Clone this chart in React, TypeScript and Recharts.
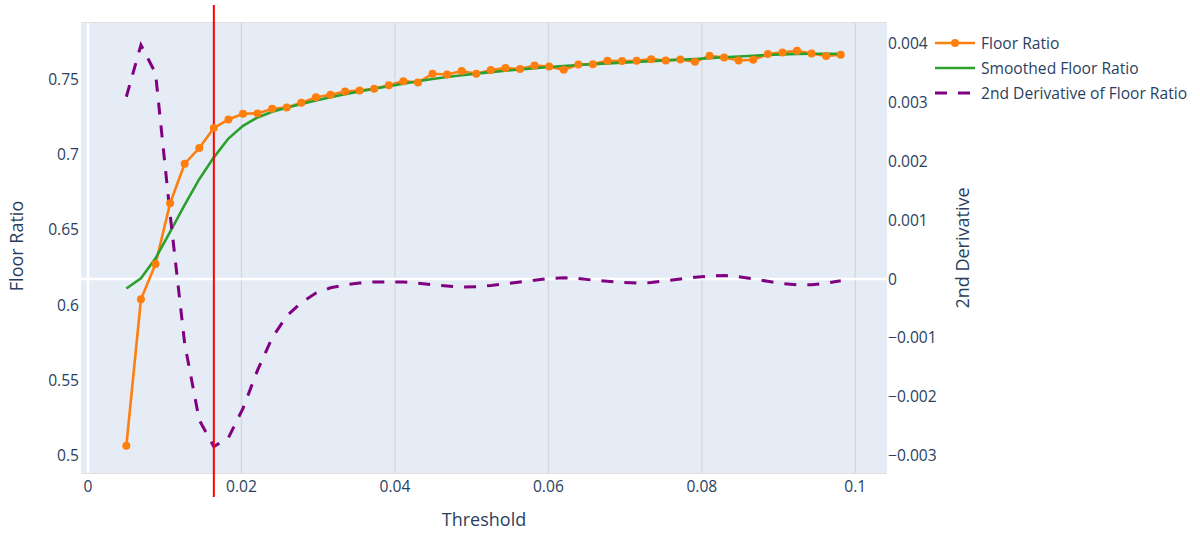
import {
  ComposedChart,
  Line,
  XAxis,
  YAxis,
  CartesianGrid,
  ReferenceLine,
  Label,
} from "recharts";

const thresholds = [
  0.005, 0.0069, 0.0088, 0.0107, 0.0126, 0.0145, 0.0164, 0.0183, 0.0202, 0.0221,
  0.024, 0.0259, 0.0278, 0.0297, 0.0316, 0.0335, 0.0354, 0.0373, 0.0392, 0.0411,
  0.043, 0.0449, 0.0468, 0.0487, 0.0506, 0.0525, 0.0544, 0.0563, 0.0582, 0.0601,
  0.062, 0.0639, 0.0658, 0.0677, 0.0696, 0.0715, 0.0734, 0.0753, 0.0772, 0.0791,
  0.081, 0.0829, 0.0848, 0.0867, 0.0886, 0.0905, 0.0924, 0.0943, 0.0962, 0.0981,
];

const floorRatio = [
  0.5066, 0.6038, 0.6272, 0.6675, 0.6938, 0.7042, 0.7175, 0.7232, 0.727, 0.7272,
  0.7303, 0.7311, 0.7342, 0.7379, 0.7395, 0.7417, 0.7424, 0.7435, 0.7459, 0.7486,
  0.7477, 0.7535, 0.753, 0.7553, 0.7535, 0.756, 0.7573, 0.7566, 0.759, 0.7583,
  0.7561, 0.7596, 0.7599, 0.7621, 0.7619, 0.7621, 0.7632, 0.7623, 0.763, 0.7614,
  0.7654, 0.7643, 0.7623, 0.7628, 0.7666, 0.7677, 0.7688, 0.767, 0.7653, 0.7662,
];

const smoothedRatio = [
  0.611, 0.6177, 0.631, 0.6485, 0.6665, 0.6835, 0.698, 0.7105, 0.719, 0.7245,
  0.7283, 0.731, 0.7335, 0.7358, 0.7379, 0.7399, 0.7418, 0.7436, 0.7453, 0.7469,
  0.7485, 0.75, 0.7513, 0.7525, 0.7536, 0.7546, 0.7555, 0.7563, 0.7572, 0.758,
  0.7587, 0.7593, 0.7599, 0.7604, 0.7609, 0.7614, 0.7619, 0.7624, 0.7629, 0.7633,
  0.7639, 0.7645, 0.765, 0.7655, 0.766, 0.7664, 0.7667, 0.7668, 0.7668, 0.7667,
];

const secondDeriv = [
  0.0031, 0.00398, 0.0035, 0.0011, -0.0011, -0.0024, -0.00285, -0.0027, -0.0022, -0.00155,
  -0.001, -0.00063, -0.0004, -0.00024, -0.00015, -0.0001, -0.00007, -0.00005, -0.00005, -0.00005,
  -0.00007, -0.0001, -0.00012, -0.00014, -0.00013, -0.00011, -0.00008, -0.00005, -0.00002, 0.00001,
  0.00002, 0.00001, -0.00002, -0.00004, -0.00006, -0.00007, -0.00006, -0.00003, 0, 0.00003,
  0.00005, 0.00006, 0.00004, 0, -0.00004, -0.00008, -0.0001, -0.0001, -0.00007, -0.00003,
];

const xTicks = [0, 0.02, 0.04, 0.06, 0.08, 0.1];
const leftTicks = [0.5, 0.55, 0.6, 0.65, 0.7, 0.75];
const rightTicks = [-0.003, -0.002, -0.001, 0, 0.001, 0.002, 0.003, 0.004];
const chosenThreshold = 0.0164;

const data = thresholds.map((t, i) => ({
  threshold: t,
  floor: floorRatio[i],
  smooth: smoothedRatio[i],
  deriv: secondDeriv[i],
}));

const FONT = '"Open Sans", verdana, arial, sans-serif';
const TEXT = "#2a3f5f";
const GRID = "#d6d6d6";
const tickStyle = { fill: TEXT, fontSize: 15.6, fontFamily: FONT };

const fmtRight = (v: number) => {
  if (v === 0) return "0";
  const s = Math.abs(v).toFixed(3);
  return v < 0 ? "\u2212" + s : s;
};

const legendItems = [
  { name: "Floor Ratio", color: "#ff7f0e", dash: undefined, marker: true },
  { name: "Smoothed Floor Ratio", color: "#2ca02c", dash: undefined, marker: false },
  { name: "2nd Derivative of Floor Ratio", color: "purple", dash: "12 11", marker: false },
];

export default function App() {
  return (
    <div style={{ position: "absolute", left: 0, top: 0, width: 1200, height: 533, background: "#fff" }}>
      <ComposedChart
        width={1200}
        height={533}
        data={data}
        margin={{ top: 23, right: 0, bottom: 30, left: 0 }}
      >
        <rect x={81} y={23} width={806} height={450} fill="#E5ECF6" />
        <CartesianGrid yAxisId="left" vertical={false} stroke={GRID} strokeWidth={1.3} />
        {xTicks
          .filter((t) => t !== 0)
          .map((t) => (
            <ReferenceLine key={t} yAxisId="left" x={t} stroke={GRID} strokeWidth={1.3} />
          ))}
        <XAxis
          type="number"
          dataKey="threshold"
          domain={[-0.000913, 0.10413]}
          allowDataOverflow
          ticks={xTicks}
          tick={tickStyle}
          tickFormatter={(v: number) => String(v)}
          axisLine={false}
          tickLine={false}
          tickSize={0}
          tickMargin={8}
          height={30}
        >
          <Label
            value="Threshold"
            position="bottom"
            offset={10}
            style={{ fill: TEXT, fontSize: 18, fontFamily: FONT }}
          />
        </XAxis>
        <YAxis
          yAxisId="left"
          domain={[0.4885, 0.7872]}
          allowDataOverflow
          ticks={leftTicks}
          tick={tickStyle}
          tickFormatter={(v: number) => String(v)}
          axisLine={false}
          tickLine={false}
          tickSize={0}
          tickMargin={2}
          width={81}
        >
          <Label
            content={() => (
              <text
                x={23}
                y={246}
                transform="rotate(-90 23 246)"
                textAnchor="middle"
                fill={TEXT}
                fontSize={18}
                fontFamily={FONT}
              >
                Floor Ratio
              </text>
            )}
          />
        </YAxis>
        <YAxis
          yAxisId="right"
          orientation="right"
          domain={[-0.0033, 0.004354]}
          allowDataOverflow
          ticks={rightTicks}
          tick={tickStyle}
          tickFormatter={fmtRight}
          axisLine={false}
          tickLine={false}
          tickSize={0}
          tickMargin={1}
          width={313}
        >
          <Label
            content={() => (
              <text
                x={969}
                y={248}
                transform="rotate(-90 969 248)"
                textAnchor="middle"
                fill={TEXT}
                fontSize={18}
                fontFamily={FONT}
              >
                2nd Derivative
              </text>
            )}
          />
        </YAxis>
        <ReferenceLine yAxisId="left" x={0} stroke="#fff" strokeWidth={2.5} />
        <ReferenceLine yAxisId="right" y={0} stroke="#fff" strokeWidth={2.5} />
        <Line
          yAxisId="left"
          type="linear"
          dataKey="floor"
          name="Floor Ratio"
          stroke="#ff7f0e"
          strokeWidth={2.6}
          dot={{ r: 4, fill: "#ff7f0e", stroke: "#ff7f0e", strokeWidth: 0 }}
          activeDot={false}
          isAnimationActive={false}
        />
        <Line
          yAxisId="left"
          type="linear"
          dataKey="smooth"
          name="Smoothed Floor Ratio"
          stroke="#2ca02c"
          strokeWidth={2.6}
          dot={false}
          activeDot={false}
          isAnimationActive={false}
        />
        <Line
          yAxisId="right"
          type="linear"
          dataKey="deriv"
          name="2nd Derivative of Floor Ratio"
          stroke="purple"
          strokeWidth={3}
          strokeDasharray="12 11"
          dot={false}
          activeDot={false}
          isAnimationActive={false}
        />
        <ReferenceLine
          yAxisId="left"
          x={chosenThreshold}
          stroke="red"
          strokeWidth={2}
          shape={(p: any) => (
            <line x1={p.x1} x2={p.x2} y1={5} y2={497} stroke="red" strokeWidth={2} />
          )}
        />
      </ComposedChart>
      <div
        style={{
          position: "absolute",
          left: 935,
          top: 31,
          fontFamily: FONT,
          fontSize: 15.6,
          color: TEXT,
        }}
      >
        {legendItems.map((it) => (
          <div key={it.name} style={{ display: "flex", alignItems: "center", height: 24.7 }}>
            <svg width={46} height={20} style={{ flex: "none" }}>
              <line
                x1={0}
                x2={40}
                y1={10}
                y2={10}
                stroke={it.color}
                strokeWidth={it.dash ? 3 : 2.6}
                strokeDasharray={it.dash}
              />
              {it.marker && <circle cx={20} cy={10} r={4} fill={it.color} />}
            </svg>
            <span style={{ whiteSpace: "nowrap" }}>{it.name}</span>
          </div>
        ))}
      </div>
    </div>
  );
}
